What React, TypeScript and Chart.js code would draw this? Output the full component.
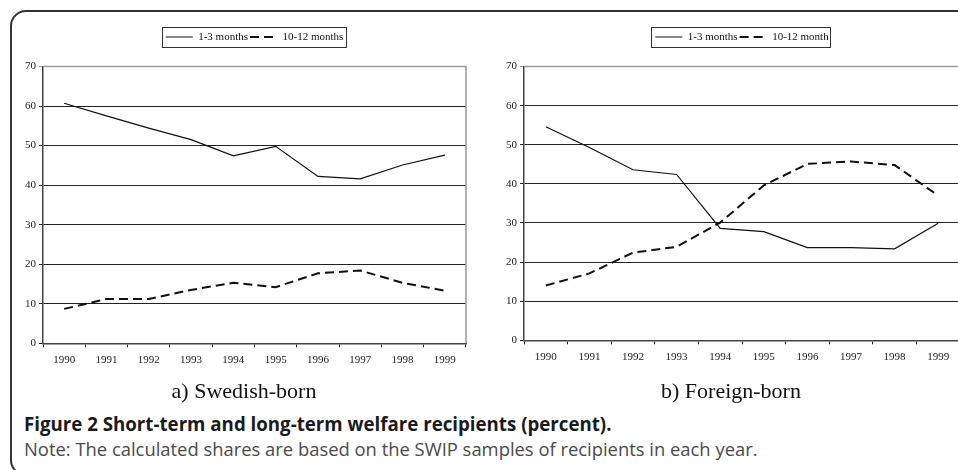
import React, { useEffect, useRef } from "react";
import { Chart, registerables } from "chart.js";

Chart.register(...registerables);

// ---- data ----
const years = ["1990", "1991", "1992", "1993", "1994", "1995", "1996", "1997", "1998", "1999"];
const yTicks = [0, 10, 20, 30, 40, 50, 60, 70];
const legendSwedish = ["1-3 months", "10-12 months"];
const legendForeign = ["1-3 months", "10-12 month"];
const swedishShort = [60.7, 57.5, 54.4, 51.5, 47.4, 49.8, 42.2, 41.6, 45.1, 47.6];
const swedishLong = [8.7, 11.2, 11.2, 13.5, 15.3, 14.2, 17.7, 18.4, 15.3, 13.3];
const foreignShort = [54.6, 49.3, 43.6, 42.4, 28.6, 27.8, 23.7, 23.7, 23.4, 29.9];
const foreignLong = [14.0, 17.1, 22.4, 23.9, 30.1, 39.6, 45.1, 45.7, 44.8, 37.0];
const subtitleA = "a) Swedish-born";
const subtitleB = "b) Foreign-born";
const captionTitle = "Figure 2 Short-term and long-term welfare recipients (percent).";
const captionNote = "Note: The calculated shares are based on the SWIP samples of recipients in each year.";

const SERIF = "'Liberation Serif', 'Times New Roman', serif";
const SANS = "'Open Sans', 'Noto Sans', sans-serif";

const boxPlugin = {
  id: "boxPlugin",
  afterDraw(chart: any) {
    const { ctx, chartArea } = chart;
    const { left, top, right, bottom } = chartArea;
    ctx.save();
    ctx.strokeStyle = "#9a9a9a";
    ctx.lineWidth = 1.5;
    ctx.beginPath();
    ctx.moveTo(left, top);
    ctx.lineTo(right, top);
    ctx.lineTo(right, bottom);
    ctx.stroke();
    const lg = chart.legend;
    if (lg && lg.legendHitBoxes && lg.legendHitBoxes.length) {
      const hb = lg.legendHitBoxes;
      const x0 = Math.min(...hb.map((h: any) => h.left)) - 4;
      const x1 = Math.max(...hb.map((h: any) => h.left + h.width)) + 2;
      const cy = hb[0].top + hb[0].height / 2;
      ctx.strokeStyle = "#333";
      ctx.lineWidth = 1;
      ctx.strokeRect(Math.round(x0) + 0.5, Math.round(cy - 10) + 0.5, Math.round(x1 - x0), 20);
    }
    ctx.restore();
  },
};

function makeConfig(
  short: number[],
  long: number[],
  labels: string[],
  yWidth: number,
  pr: number,
  pb: number
): any {
  return {
    type: "line",
    data: {
      labels: years,
      datasets: [
        {
          label: labels[0],
          data: short,
          borderColor: "#111",
          borderWidth: 1.2,
          pointRadius: 0,
          tension: 0,
          fill: false,
        },
        {
          label: labels[1],
          data: long,
          borderColor: "#111",
          borderWidth: 2,
          borderDash: [9, 5],
          pointRadius: 0,
          tension: 0,
          fill: false,
        },
      ],
    },
    options: {
      responsive: false,
      animation: false,
      devicePixelRatio: 1,
      events: [],
      layout: { padding: { left: 0, right: pr, top: 29.5, bottom: pb } },
      plugins: {
        legend: {
          display: true,
          position: "top",
          fullSize: false,
          labels: {
            usePointStyle: true,
            pointStyle: "line",
            pointStyleWidth: 27,
            boxWidth: 27,
            padding: 2,
            color: "#111",
            font: { family: SERIF, size: 11 },
            generateLabels: (chart: any) =>
              chart.data.datasets.map((ds: any, i: number) => ({
                text: ds.label,
                fillStyle: ds.borderColor,
                strokeStyle: ds.borderColor,
                fontColor: "#111",
                lineWidth: ds.borderWidth,
                lineDash: ds.borderDash || [],
                lineCap: "butt",
                pointStyle: "line",
                hidden: false,
                datasetIndex: i,
              })),
          },
        },
        title: {
          display: true,
          text: "",
          weight: 500,
          fullSize: false,
          padding: { top: 0, bottom: 13 },
          font: { size: 1, lineHeight: 1 },
        },
        tooltip: { enabled: false },
      },
      scales: {
        x: {
          type: "category",
          offset: true,
          grid: {
            offset: true,
            drawOnChartArea: false,
            drawTicks: true,
            tickLength: 4,
            color: "#222",
            lineWidth: 1,
          },
          border: { display: true, color: "#444", width: 1.5 },
          ticks: {
            color: "#222",
            font: { family: SERIF, size: 11 },
            padding: 6,
            maxRotation: 0,
            autoSkip: false,
          },
          afterFit: (s: any) => {
            s.height = 30;
          },
        },
        y: {
          min: 0,
          max: 70,
          afterBuildTicks: (s: any) => {
            s.ticks = yTicks.map((v) => ({ value: v }));
          },
          ticks: {
            color: "#222",
            font: { family: SERIF, size: 11 },
            padding: 3,
          },
          grid: {
            color: (c: any) => (c.tick && c.tick.value === 70 ? "#9a9a9a" : "#222"),
            tickLength: 4,
            lineWidth: 1,
          },
          border: { display: true, color: "#444", width: 1.5 },
          afterFit: (s: any) => {
            s.width = yWidth;
          },
        },
      },
    },
    plugins: [boxPlugin],
  };
}

function LineChart(props: {
  left: number;
  width: number;
  height: number;
  short: number[];
  long: number[];
  labels: string[];
  yWidth: number;
  pr: number;
  pb: number;
}) {
  const ref = useRef<HTMLCanvasElement | null>(null);
  useEffect(() => {
    if (!ref.current) return;
    const chart = new Chart(
      ref.current,
      makeConfig(props.short, props.long, props.labels, props.yWidth, props.pr, props.pb)
    );
    return () => chart.destroy();
  }, []);
  return (
    <canvas
      ref={ref}
      width={props.width}
      height={props.height}
      style={{ position: "absolute", left: props.left, top: 0, width: props.width, height: props.height }}
    />
  );
}

const subStyle: any = {
  position: "absolute",
  width: 300,
  top: 380,
  textAlign: "center",
  fontFamily: SERIF,
  fontSize: 22,
  lineHeight: "22px",
  color: "#111",
  whiteSpace: "nowrap",
};

export default function App() {
  return (
    <div
      style={{
        position: "absolute",
        left: 0,
        top: 0,
        width: 958,
        height: 470,
        overflow: "hidden",
        background: "#fff",
      }}
    >
      <div
        style={{
          position: "absolute",
          left: 10,
          top: 10,
          width: 1000,
          height: 466,
          border: "2px solid #333",
          borderRadius: 16,
          boxSizing: "border-box",
        }}
      />
      <LineChart left={0} width={480} height={380} short={swedishShort} long={swedishLong} labels={legendSwedish} yWidth={43} pr={14} pb={6.7} />
      <LineChart left={480} width={490} height={380} short={foreignShort} long={foreignLong} labels={legendForeign} yWidth={44} pr={10} pb={9.7} />
      <div style={{ ...subStyle, left: 94 }}>{subtitleA}</div>
      <div style={{ ...subStyle, left: 581 }}>{subtitleB}</div>
      <div
        style={{
          position: "absolute",
          left: 24,
          top: 415.4,
          fontFamily: SANS,
          fontWeight: 700,
          fontSize: 18.7,
          lineHeight: "18.7px",
          color: "#1a1a1a",
          whiteSpace: "nowrap",
        }}
      >
        {captionTitle}
      </div>
      <div
        style={{
          position: "absolute",
          left: 24,
          top: 439.7,
          fontFamily: SANS,
          fontSize: 18.4,
          lineHeight: "18.4px",
          color: "#4a4a4a",
          whiteSpace: "nowrap",
        }}
      >
        {captionNote}
      </div>
    </div>
  );
}
